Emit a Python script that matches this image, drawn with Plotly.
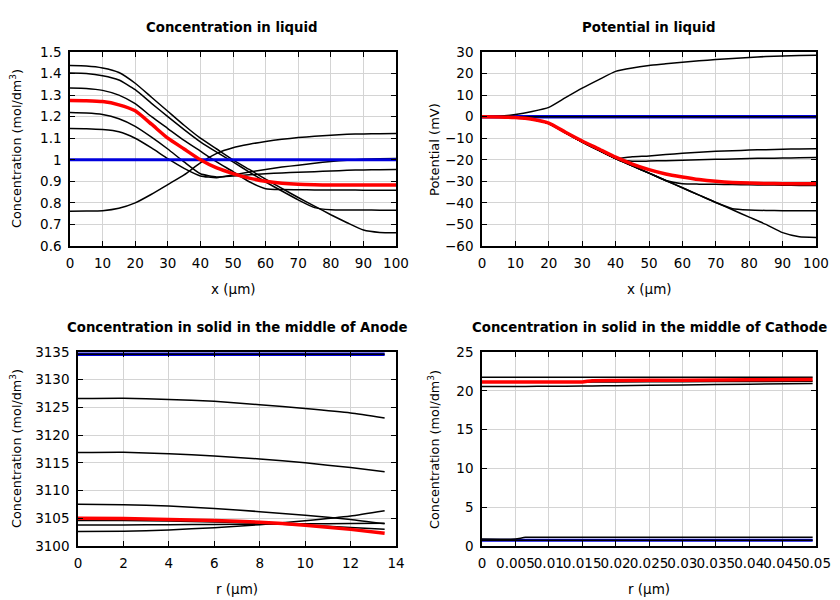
import plotly.graph_objects as go

# ---------------- data ----------------
# Top-left: concentration in liquid vs x (um)
x_liq = [0, 5, 10, 15, 20, 25, 30, 35, 40, 45, 50, 55, 60, 65, 70, 75, 80, 85, 90, 95, 100]
c_liq_black = [
    [1.437, 1.435, 1.426, 1.405, 1.355, 1.29, 1.225, 1.16, 1.10, 1.05, 1.0, 0.955, 0.91, 0.867, 0.825, 0.785, 0.745, 0.708, 0.674, 0.663, 0.662],
    [1.402, 1.40, 1.39, 1.37, 1.325, 1.262, 1.20, 1.14, 1.083, 1.035, 0.99, 0.943, 0.897, 0.855, 0.814, 0.778, 0.768, 0.767, 0.767, 0.766, 0.766],
    [1.333, 1.331, 1.322, 1.30, 1.26, 1.20, 1.145, 1.09, 1.04, 0.99, 0.945, 0.898, 0.866, 0.862, 0.861, 0.860, 0.860, 0.860, 0.859, 0.859, 0.859],
    [1.219, 1.217, 1.21, 1.19, 1.155, 1.105, 1.05, 0.99, 0.935, 0.92, 0.925, 0.93, 0.935, 0.939, 0.942, 0.945, 0.948, 0.951, 0.953, 0.954, 0.955],
    [1.145, 1.144, 1.14, 1.13, 1.10, 1.055, 1.005, 0.96, 0.925, 0.917, 0.93, 0.943, 0.955, 0.966, 0.975, 0.984, 0.992, 0.998, 1.002, 1.005, 1.006],
    [0.761, 0.762, 0.764, 0.775, 0.80, 0.84, 0.885, 0.93, 0.986, 1.03, 1.056, 1.072, 1.085, 1.095, 1.103, 1.109, 1.114, 1.118, 1.12, 1.121, 1.122],
]
c_liq_red = [1.275, 1.274, 1.27, 1.255, 1.227, 1.165, 1.10, 1.05, 1.0, 0.962, 0.936, 0.915, 0.90, 0.891, 0.886, 0.884, 0.883, 0.883, 0.883, 0.883, 0.883]
c_liq_blue = [1.0] * len(x_liq)
c_liq_ticks = [0.6, 0.7, 0.8, 0.9, 1.0, 1.1, 1.2, 1.3, 1.4, 1.5]
c_liq_ticktext = ["0.6", "0.7", "0.8", "0.9", "1", "1.1", "1.2", "1.3", "1.4", "1.5"]

# Top-right: potential in liquid vs x (um)
p_liq_black = [
    [0, 0.2, 1.0, 2.4, 4.3, 8.8, 13.2, 17.2, 21.0, 22.6, 23.7, 24.5, 25.3, 25.9, 26.5, 27.0, 27.5, 27.9, 28.2, 28.4, 28.5],
    [0] * 21,
    [0, -0.1, -0.4, -1.3, -3.2, -7.5, -11.8, -15.6, -19.4, -18.6, -18.2, -17.6, -17.0, -16.5, -16.1, -15.8, -15.5, -15.3, -15.1, -15.0, -14.9],
    [0, -0.1, -0.4, -1.3, -3.2, -7.5, -11.8, -15.6, -19.4, -20.7, -20.6, -20.4, -20.2, -20.0, -19.8, -19.6, -19.4, -19.3, -19.2, -19.1, -19.0],
    [0, -0.1, -0.4, -1.3, -3.2, -7.5, -11.8, -15.6, -19.4, -22.8, -26.2, -29.6, -31.1, -31.3, -31.4, -31.5, -31.6, -31.7, -31.8, -31.9, -31.9],
    [0, -0.1, -0.4, -1.3, -3.2, -7.5, -11.8, -15.6, -19.4, -22.8, -26.2, -29.6, -33.0, -36.4, -39.8, -42.7, -43.3, -43.5, -43.6, -43.7, -43.7],
    [0, -0.1, -0.4, -1.3, -3.2, -7.5, -11.8, -15.6, -19.4, -22.8, -26.2, -29.6, -33.0, -36.4, -39.8, -43.2, -46.6, -50.0, -53.8, -55.7, -56.0],
]
p_liq_red = [0, -0.1, -0.4, -1.2, -3.0, -7.2, -11.3, -15.0, -18.8, -22.0, -24.6, -26.6, -28.0, -29.2, -30.0, -30.5, -30.8, -31.0, -31.1, -31.1, -31.1]
p_liq_blue = [0] * 21

# Bottom-left: solid concentration, anode, vs r (um)
r_an = [0, 2, 4, 6, 8, 10, 12, 13.5]
c_an_black = [
    [3134.6] * 8,
    [3126.6, 3126.65, 3126.45, 3126.1, 3125.5, 3124.8, 3124.0, 3123.1],
    [3116.85, 3116.9, 3116.65, 3116.25, 3115.7, 3115.0, 3114.15, 3113.4],
    [3107.55, 3107.45, 3107.2, 3106.75, 3106.2, 3105.55, 3104.8, 3104.0],
    [3104.6, 3104.6, 3104.5, 3104.35, 3104.1, 3103.75, 3103.35, 3103.0],
    [3103.8, 3103.8, 3103.85, 3103.9, 3103.95, 3104.0, 3104.05, 3104.1],
    [3102.6, 3102.65, 3102.9, 3103.3, 3103.85, 3104.55, 3105.4, 3106.35],
]
c_an_red = [3105.0, 3104.95, 3104.8, 3104.6, 3104.3, 3103.75, 3103.0, 3102.3]
c_an_blue = [3134.6] * 8

# Bottom-right: solid concentration, cathode, vs r (um)
r_ca = [0, 0.005, 0.0065, 0.01, 0.015, 0.0165, 0.02, 0.03, 0.04, 0.0495]
c_ca_black = [
    [21.75, 21.75, 21.75, 21.75, 21.75, 21.75, 21.75, 21.75, 21.75, 21.75],
    [21.1, 21.1, 21.1, 21.1, 21.1, 21.12, 21.14, 21.17, 21.2, 21.22],
    [20.55, 20.55, 20.56, 20.58, 20.62, 20.63, 20.66, 20.75, 20.86, 20.95],
    [0.9, 0.9, 1.12, 1.12, 1.12, 1.12, 1.12, 1.12, 1.12, 1.12],
    [0.73] * 10,
]
c_ca_red = [21.15, 21.15, 21.15, 21.15, 21.15, 21.3, 21.32, 21.37, 21.42, 21.45]
c_ca_blue = [0.73] * 10
r_ca_ticks = [0, 0.005, 0.01, 0.015, 0.02, 0.025, 0.03, 0.035, 0.04, 0.045, 0.05]
r_ca_ticktext = ["0", "0.005", "0.01", "0.015", "0.02", "0.025", "0.03", "0.035", "0.04", "0.045", "0.05"]

# ---------------- figure ----------------
# The page body has an 8px margin, so the figure is 832x592 and drawn at (8, 8).
OFF = 8
W, H = 840 - OFF, 600 - OFF
FONT = "DejaVu Sans"
BLACK, RED, BLUE = "#000000", "#ff0000", "#0000dd"

fig = go.Figure()


def add(x, y, color, width, xa, ya):
    fig.add_trace(go.Scatter(x=x, y=y, mode="lines", xaxis=xa, yaxis=ya,
                             line=dict(color=color, width=width, shape="spline", smoothing=0.5),
                             showlegend=False, hoverinfo="skip"))


# top-left: blacks, blue, red
for c in c_liq_black:
    add(x_liq, c, BLACK, 1.5, "x", "y")
add(x_liq, c_liq_blue, BLUE, 3, "x", "y")
add(x_liq, c_liq_red, RED, 3.5, "x", "y")

# top-right
add(x_liq, p_liq_blue, BLUE, 3.5, "x2", "y2")
for c in p_liq_black:
    add(x_liq, c, BLACK, 1.5, "x2", "y2")
add(x_liq, p_liq_red, RED, 3.5, "x2", "y2")

# bottom-left
add(r_an, c_an_blue, BLUE, 3.5, "x3", "y3")
for c in c_an_black:
    add(r_an, c, BLACK, 1.5, "x3", "y3")
add(r_an, c_an_red, RED, 3.5, "x3", "y3")

# bottom-right
add(r_ca, c_ca_blue, BLUE, 3, "x4", "y4")
for c in c_ca_black:
    add(r_ca, c, BLACK, 1.5, "x4", "y4")
add(r_ca, c_ca_red, RED, 3.5, "x4", "y4")


def dx(a, b):
    return [(a - OFF) / W, (b - OFF) / W]


def dy(top, bottom):
    return [1 - (bottom - OFF) / H, 1 - (top - OFF) / H]


axis_style = dict(showline=True, linecolor=BLACK, linewidth=1.5, mirror="ticks",
                  ticks="inside", ticklen=5, tickwidth=1, tickcolor=BLACK,
                  showgrid=True, gridcolor="#d4d4d4", gridwidth=1, zeroline=False,
                  automargin=False, tickangle=0, ticklabelstandoff=4,
                  tickfont=dict(family=FONT, size=13.5, color=BLACK))

fig.update_layout(
    width=W, height=H, margin=dict(l=0, r=0, t=0, b=0, pad=0, autoexpand=False),
    paper_bgcolor="white", plot_bgcolor="white",
    font=dict(family=FONT, size=13, color=BLACK),
    xaxis=dict(domain=dx(70, 396), anchor="y", range=[0, 100], dtick=10, tick0=0, **axis_style),
    yaxis=dict(domain=dy(52, 246), anchor="x", range=[0.6, 1.5], tickmode="array",
               tickvals=c_liq_ticks, ticktext=c_liq_ticktext, **axis_style),
    xaxis2=dict(domain=dx(482, 816), anchor="y2", range=[0, 100], dtick=10, tick0=0, **axis_style),
    yaxis2=dict(domain=dy(52, 246), anchor="x2", range=[-60, 30], dtick=10, tick0=0, **axis_style),
    xaxis3=dict(domain=dx(78, 396), anchor="y3", range=[0, 14], dtick=2, tick0=0, **axis_style),
    yaxis3=dict(domain=dy(352, 546), anchor="x3", range=[3100, 3135], dtick=5, tick0=3100, **axis_style),
    xaxis4=dict(domain=dx(482, 816), anchor="y4", range=[0, 0.05], tickmode="array",
                tickvals=r_ca_ticks, ticktext=r_ca_ticktext, **axis_style),
    yaxis4=dict(domain=dy(352, 546), anchor="x4", range=[0, 25], dtick=5, tick0=0, **axis_style),
)


def ann(text, px, py, size=13, angle=0):
    fig.add_annotation(text=text, x=(px - OFF) / W, y=1 - (py - OFF) / H, xref="paper", yref="paper",
                       showarrow=False, xanchor="center", yanchor="middle",
                       textangle=angle, font=dict(family=FONT, size=size, color=BLACK))


ann("<b>Concentration in liquid</b>", 232, 27, size=13.3)
ann("<b>Potential in liquid</b>", 649, 27, size=13.3)
ann("<b>Concentration in solid in the middle of Anode</b>", 237, 327, size=13.3)
ann("<b>Concentration in solid in the middle of Cathode</b>", 649, 327, size=13.3)

ann("x (µm)", 233, 289, size=13.5)
ann("x (µm)", 649, 289, size=13.5)
ann("r (µm)", 237, 589, size=13.5)
ann("r (µm)", 649, 589, size=13.5)

ann("Concentration (mol/dm<sup>3</sup>)", 16, 149, size=12.8, angle=-90)
ann("Potential (mV)", 434, 149, size=13, angle=-90)
ann("Concentration (mol/dm<sup>3</sup>)", 16, 449, size=12.8, angle=-90)
ann("Concentration (mol/dm<sup>3</sup>)", 434, 449, size=12.8, angle=-90)

fig.write_html("out.html")
